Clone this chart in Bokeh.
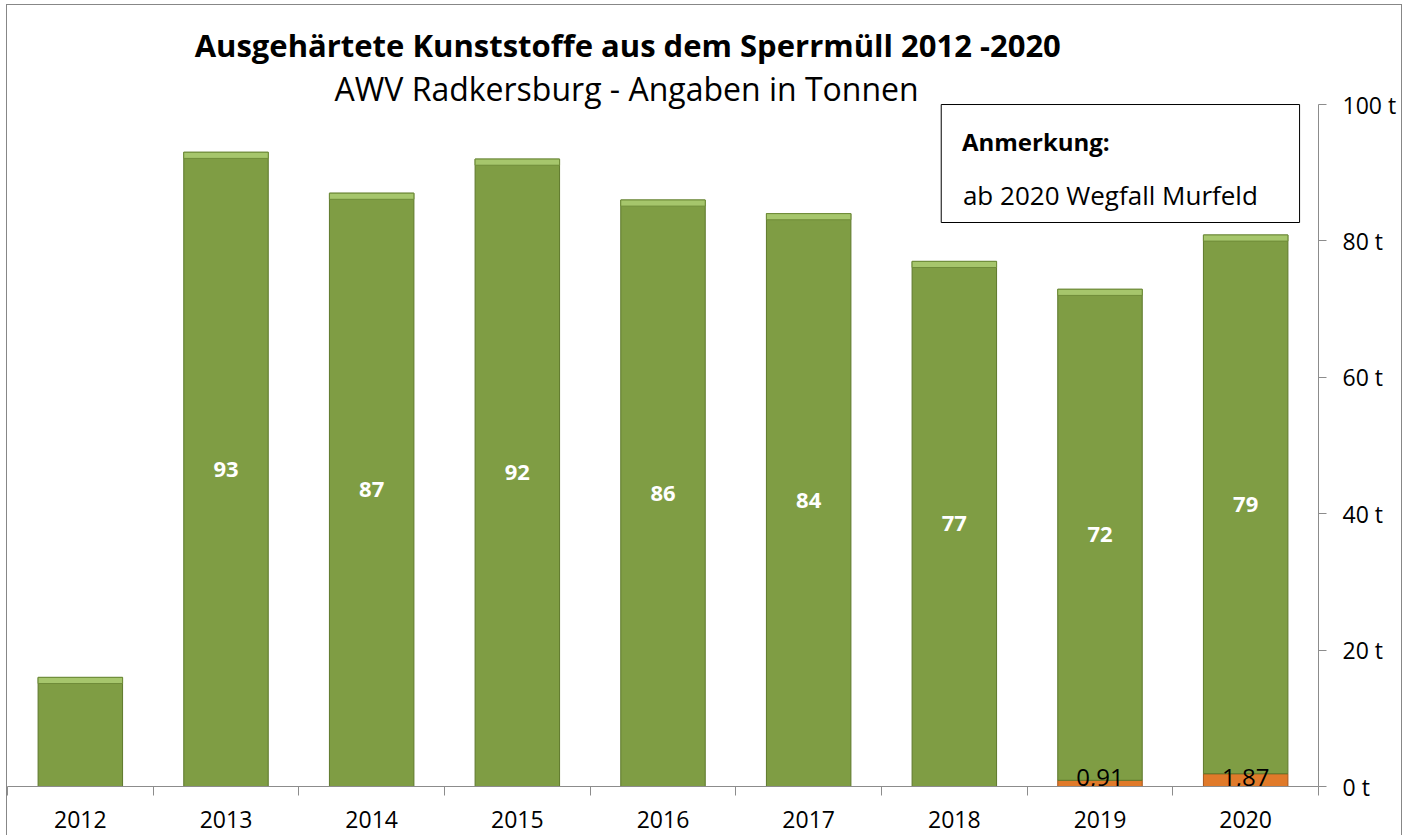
from bokeh.plotting import figure
from bokeh.models import (ColumnDataSource, FixedTicker, PrintfTickFormatter, LinearAxis,
                          BoxAnnotation, Label, Range1d)
from bokeh.core.properties import value
from bokeh.embed import file_html
from bokeh.resources import INLINE

years = ["2012", "2013", "2014", "2015", "2016", "2017", "2018", "2019", "2020"]
green_values = [16, 93, 87, 92, 86, 84, 77, 72, 79]
green_labels = ["", "93", "87", "92", "86", "84", "77", "72", "79"]
orange_values = [0, 0, 0, 0, 0, 0, 0, 0.91, 1.87]
orange_labels = ["", "", "", "", "", "", "", "0,91", "1,87"]
y_ticks = [0, 20, 40, 60, 80, 100]

FONT = "Open Sans"
xs = list(range(len(years)))
tops = [o + g for o, g in zip(orange_values, green_values)]
mids = [o + g / 2 for o, g in zip(orange_values, green_values)]

src = ColumnDataSource(dict(x=xs, year=years, green=green_values, orange=orange_values,
                            top=tops, mid=mids, glab=green_labels, olab=orange_labels,
                            hl=[t - 0.9 for t in tops]))

p = figure(width=1396, height=831, output_backend="svg", toolbar_location=None,
           x_range=Range1d(-0.5, 8.5), y_range=Range1d(0, 114.52),
           min_border_left=0, min_border_top=0, min_border_right=85, min_border_bottom=50,
           x_axis_location=None, y_axis_location=None)
p.styles = {"margin-left": "6px", "margin-top": "4px",
            "border-left": "1px solid #878787", "border-top": "1px solid #878787",
            "border-right": "1px solid #878787"}
p.outline_line_color = None
p.xgrid.visible = False
p.ygrid.visible = False
p.background_fill_color = "white"
p.border_fill_color = "white"

# bars
p.vbar(x="x", bottom=0, top="orange", width=0.58, source=src,
       fill_color="#e07a2a", line_color="#a6561a", line_width=1)
p.vbar(x="x", bottom="orange", top="top", width=0.58, source=src,
       fill_color="#7f9d44", line_color="#5d782b", line_width=1)
p.vbar(x="x", bottom="hl", top="top", width=0.58, source=src,
       fill_color="#a6c66c", line_color="#6f8c39", line_width=1)

# value labels
p.text(x="x", y="mid", text="glab", source=src, text_color="white",
       text_font=value(FONT), text_font_style="bold", text_font_size="22px",
       text_align="center", text_baseline="middle")
p.text(x="x", y=1.3, text="olab", source=src, text_color="black",
       text_font=value(FONT), text_font_size="24px",
       text_align="center", text_baseline="middle")

# axes
xaxis = LinearAxis(ticker=FixedTicker(ticks=xs, minor_ticks=[i - 0.5 for i in range(len(years) + 1)]),
                   major_label_overrides={i: y for i, y in zip(xs, years)})
xaxis.axis_line_color = "#8c8c8c"
xaxis.major_tick_line_color = None
xaxis.minor_tick_line_color = "#8c8c8c"
xaxis.minor_tick_in = 0
xaxis.minor_tick_out = 9
xaxis.major_label_standoff = 15
xaxis.major_label_text_font = FONT
xaxis.major_label_text_font_size = "23px"
xaxis.major_label_text_color = "black"
p.add_layout(xaxis, "below")

yaxis = LinearAxis(ticker=FixedTicker(ticks=y_ticks, minor_ticks=[]),
                   formatter=PrintfTickFormatter(format="%d t"), bounds=(0, 100))
yaxis.axis_line_color = "#8c8c8c"
yaxis.major_tick_line_color = "#8c8c8c"
yaxis.major_tick_in = 0
yaxis.major_tick_out = 8
yaxis.minor_tick_line_color = None
yaxis.major_label_standoff = 16
yaxis.major_label_text_font = FONT
yaxis.major_label_text_font_size = "23px"
yaxis.major_label_text_color = "black"
p.add_layout(yaxis, "right")

# titles
p.add_layout(Label(x=3.758, y=108.8, text="Ausgehärtete Kunststoffe aus dem Sperrmüll 2012 -2020",
                   text_font=FONT, text_font_style="bold", text_font_size="31px",
                   text_align="center", text_baseline="middle", text_color="black"))
p.add_layout(Label(x=3.75, y=102.35, text="AWV Radkersburg - Angaben in Tonnen",
                   text_font=FONT, text_font_size="32px",
                   text_align="center", text_baseline="middle", text_color="black"))

# note box
p.add_layout(BoxAnnotation(left=5.91, right=8.37, bottom=82.7, top=100,
                           fill_color="white", fill_alpha=1, line_color="black",
                           line_alpha=1, line_width=1))
p.add_layout(Label(x=6.052, y=94.6, text="Anmerkung:", text_font=FONT, text_font_style="bold",
                   text_font_size="24px", text_align="left", text_baseline="middle",
                   text_color="black"))
p.add_layout(Label(x=6.059, y=86.7, text="ab 2020 Wegfall Murfeld", text_font=FONT,
                   text_font_size="26px", text_align="left", text_baseline="middle",
                   text_color="black"))

open("out.html", "w").write(file_html(p, INLINE))
